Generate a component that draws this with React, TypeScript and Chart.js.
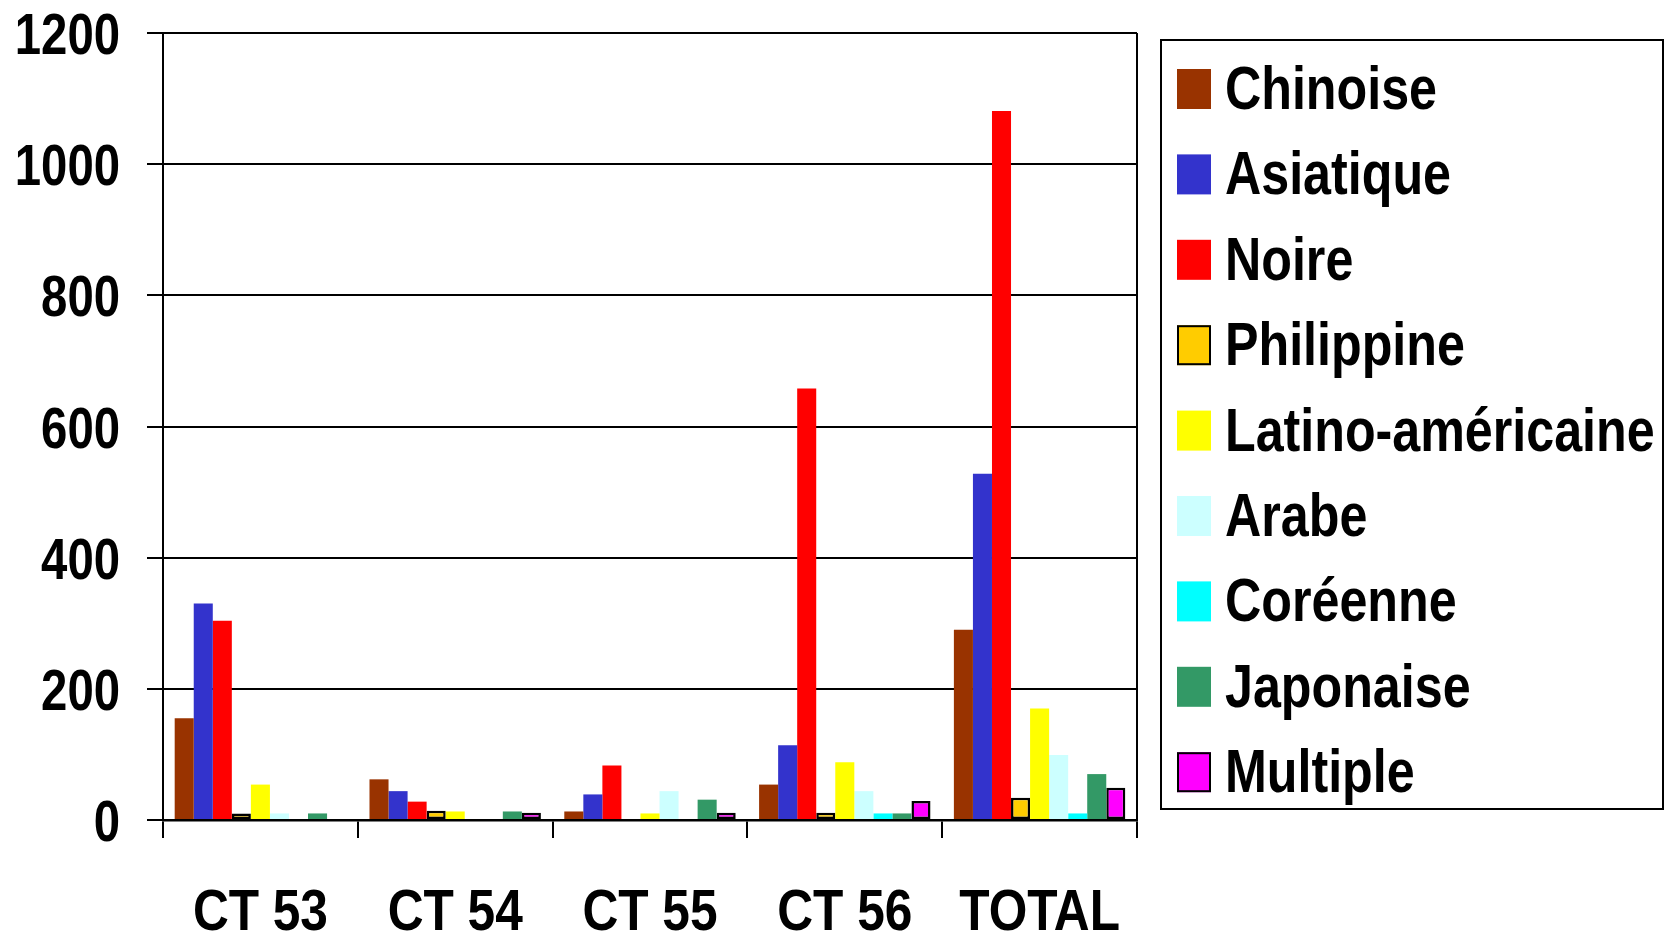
import React, { useEffect, useRef } from "react";
import { Chart, registerables } from "chart.js";

Chart.register(...registerables);

const categories = ["CT 53", "CT 54", "CT 55", "CT 56", "TOTAL"];
const yTicks = [0, 200, 400, 600, 800, 1000, 1200];

const seriesNames = [
  "Chinoise",
  "Asiatique",
  "Noire",
  "Philippine",
  "Latino-américaine",
  "Arabe",
  "Coréenne",
  "Japonaise",
  "Multiple",
];
const seriesColors = [
  "#993300",
  "#3333CC",
  "#FF0000",
  "#FFCC00",
  "#FFFF00",
  "#CCFFFF",
  "#00FFFF",
  "#339966",
  "#FF00FF",
];
const seriesBordered = [false, false, false, true, false, false, false, false, true];

const chinoise = [155, 62, 13, 54, 290];
const asiatique = [330, 44, 39, 114, 528];
const noire = [304, 28, 83, 658, 1081];
const philippine = [10, 14, 0, 11, 34];
const latino = [54, 13, 10, 88, 170];
const arabe = [10, 0, 44, 44, 99];
const coreenne = [0, 0, 0, 10, 10];
const japonaise = [10, 13, 31, 10, 70];
const multiple = [0, 11, 11, 29, 49];

const seriesValues = [chinoise, asiatique, noire, philippine, latino, arabe, coreenne, japonaise, multiple];

const FONT = "'Liberation Sans', Arial, Helvetica, sans-serif";

function drawScaledText(
  ctx: CanvasRenderingContext2D,
  text: string,
  x: number,
  y: number,
  size: number,
  sx: number,
  align: CanvasTextAlign
) {
  ctx.save();
  ctx.translate(x, y);
  ctx.scale(sx, 1);
  ctx.font = `bold ${size}px ${FONT}`;
  ctx.fillStyle = "#000";
  ctx.textAlign = align;
  ctx.textBaseline = "alphabetic";
  ctx.fillText(text, 0, 0);
  ctx.restore();
}

const decorPlugin = {
  id: "decor",
  afterDraw(chart: any) {
    const ctx: CanvasRenderingContext2D = chart.ctx;
    const area = chart.chartArea;
    const xs = chart.scales.x;
    const ys = chart.scales.y;

    // right border of plot area
    ctx.save();
    ctx.strokeStyle = "#000";
    ctx.lineWidth = 2;
    ctx.beginPath();
    ctx.moveTo(area.right, area.top);
    ctx.lineTo(area.right, area.bottom);
    ctx.stroke();
    ctx.restore();

    // y tick labels
    ys.ticks.forEach((t: any, i: number) => {
      const y = ys.getPixelForTick(i);
      drawScaledText(ctx, String(t.value), 120, y + 21, 57, 0.83, "right");
    });

    // x category labels
    categories.forEach((c, i) => {
      const x = xs.getPixelForValue(i);
      drawScaledText(ctx, c, x, 930, 58, 0.855, "center");
    });

    // legend
    ctx.save();
    ctx.strokeStyle = "#000";
    ctx.lineWidth = 2;
    ctx.strokeRect(1161, 40, 502, 769);
    ctx.restore();
    chart.data.datasets.forEach((ds: any, i: number) => {
      const base = 109 + i * 85.4;
      ctx.save();
      ctx.fillStyle = ds.backgroundColor;
      ctx.fillRect(1177, base - 40, 34, 40);
      if (ds.borderWidth > 0) {
        ctx.strokeStyle = "#000";
        ctx.lineWidth = 2;
        ctx.strokeRect(1178, base - 39, 32, 38);
      }
      ctx.restore();
      drawScaledText(ctx, ds.label, 1225, base, 61, 0.823, "left");
    });
  },
};

export default function App() {
  const ref = useRef<HTMLCanvasElement | null>(null);

  useEffect(() => {
    if (!ref.current) return;
    const chart = new Chart(ref.current, {
      type: "bar",
      data: {
        labels: categories,
        datasets: seriesNames.map((name, i) => ({
          label: name,
          data: seriesValues[i],
          backgroundColor: seriesColors[i],
          borderColor: "#000000",
          borderWidth: seriesBordered[i] ? 2.5 : 0,
          borderSkipped: false,
          categoryPercentage: 0.88,
          barPercentage: 1,
        })),
      },
      options: {
        responsive: false,
        devicePixelRatio: 1,
        animation: false,
        layout: { padding: { top: 33, right: 533, bottom: 0, left: 0 } },
        plugins: {
          legend: { display: false },
          tooltip: { enabled: false },
          title: { display: false },
        },
        scales: {
          x: {
            offset: true,
            grid: {
              offset: true,
              drawOnChartArea: false,
              drawTicks: true,
              tickLength: 18,
              color: "#000",
              lineWidth: 2,
            },
            border: { display: true, color: "#000", width: 2.5 },
            ticks: { display: false },
            afterFit: (s: any) => {
              s.height = 115;
            },
          },
          y: {
            min: 0,
            max: 1200,
            afterBuildTicks: (s: any) => {
              s.ticks = yTicks.map((v) => ({ value: v }));
            },
            grid: {
              drawTicks: true,
              tickLength: 16,
              color: "#000",
              lineWidth: 2,
            },
            border: { display: true, color: "#000", width: 2 },
            ticks: { display: false },
            afterFit: (s: any) => {
              s.width = 163;
            },
          },
        },
      },
      plugins: [decorPlugin],
    });
    return () => chart.destroy();
  }, []);

  return (
    <div style={{ position: "fixed", left: 0, top: 0, width: 1670, height: 935, background: "#fff" }}>
      <canvas ref={ref} width={1670} height={935} style={{ display: "block" }} />
    </div>
  );
}
